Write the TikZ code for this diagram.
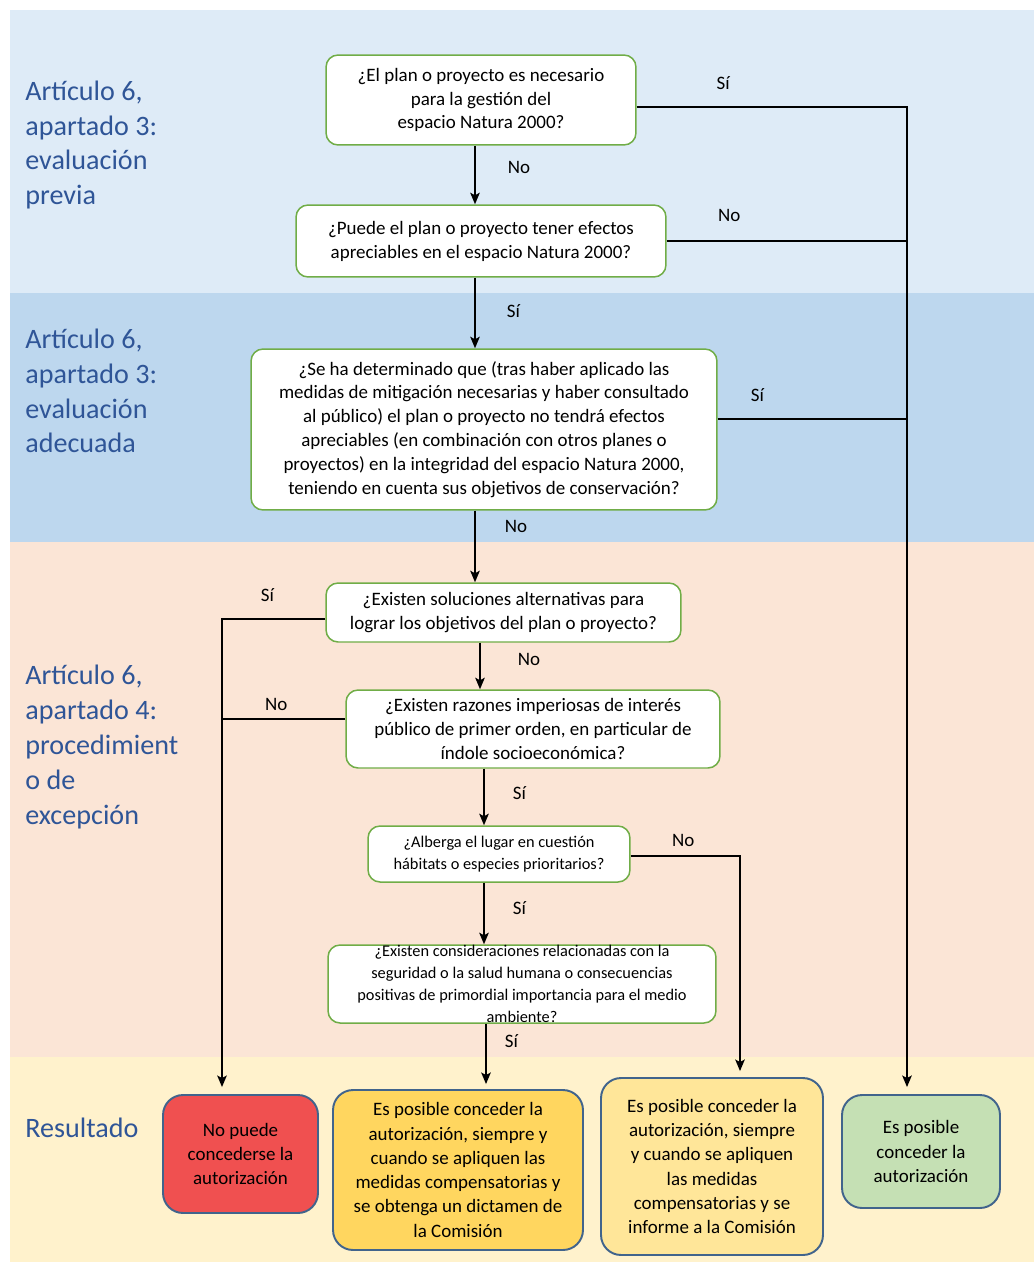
\documentclass[tikz,border=0pt]{standalone}
\usepackage{fontspec}
\setmainfont{Carlito}
\usetikzlibrary{calc, arrows.meta}
\definecolor{BandPrev}{RGB}{222, 235, 247}
\definecolor{BandAdeq}{RGB}{189, 215, 238}
\definecolor{BandExc}{RGB}{251, 229, 214}
\definecolor{BandRes}{RGB}{255, 242, 204}
\definecolor{QGreen}{RGB}{112, 173, 71}
\definecolor{RBorder}{RGB}{65, 100, 140}
\definecolor{SecBlue}{RGB}{47, 85, 151}
\definecolor{ResNo}{RGB}{240, 80, 80}
\definecolor{ResDict}{RGB}{255, 214, 95}
\definecolor{ResInf}{RGB}{255, 230, 153}
\definecolor{ResOk}{RGB}{197, 224, 180}

\begin{document}
\begin{tikzpicture}[x=0.02cm, y=-0.02cm,
                question/.style={draw=QGreen, line width=0.85pt, fill=white, rounded corners=0.24cm, inner sep=0pt, align=center, font=\fontsize{10.8}{13.6}\selectfont},
                smallq/.style={question, font=\fontsize{9.3}{12.4}\selectfont},
                result/.style={draw=RBorder, line width=1.1pt, rounded corners=0.4cm, inner sep=0pt, align=center, font=\fontsize{10.8}{13.8}\selectfont},
                section/.style={anchor=west, align=left, inner sep=0pt, text=SecBlue, font=\fontsize{16}{19.8}\selectfont},
                wire/.style={->, >={Stealth[length=2.3mm, width=1.9mm, inset=0.5mm]}, line width=1pt},
                lbl/.style={inner sep=0pt, font=\fontsize{10.8}{13}\selectfont}
            ]
                % Bands
                \useasboundingbox (0,0) rectangle (1034,1267);
                \fill[BandPrev] (10,10) rectangle (1034,293);
                \fill[BandAdeq] (10,293) rectangle (1034,542);
                \fill[BandExc] (10,542) rectangle (1034,1057);
                \fill[BandRes] (10,1057) rectangle (1034,1262);

                % Section titles
                \node[section] (sec_prev) at (25,145) {Artículo 6,\\apartado 3:\\evaluación\\previa};
                \node[section] (sec_adeq) at (25,391) {Artículo 6,\\apartado 3:\\evaluación\\adecuada};
                \node[section] (sec_exc) at (25,747) {Artículo 6,\\apartado 4:\\procedimient\\o de\\excepción};
                \node[section] (sec_res) at (25,1128) {Resultado};

                % Questions
                \node[question, minimum width=6.2cm, minimum height=1.8cm] (q_needed) at (481,100) {¿El plan o proyecto es necesario\\para la gestión del\\espacio Natura 2000?};
                \node[question, minimum width=7.4cm, minimum height=1.44cm] (q_effects) at (481,241) {¿Puede el plan o proyecto tener efectos\\apreciables en el espacio Natura 2000?};
                \node[question, minimum width=9.32cm, minimum height=3.22cm] (q_integrity) at (484,429.5) {¿Se ha determinado que (tras haber aplicado las\\medidas de mitigación necesarias y haber consultado\\al público) el plan o proyecto no tendrá efectos\\apreciables (en combinación con otros planes o\\proyectos) en la integridad del espacio Natura 2000,\\teniendo en cuenta sus objetivos de conservación?};
                \node[question, minimum width=7.1cm, minimum height=1.18cm] (q_altern) at (503.5,612.5) {¿Existen soluciones alternativas para\\lograr los objetivos del plan o proyecto?};
                \node[question, minimum width=7.48cm, minimum height=1.56cm] (q_reasons) at (533,729) {¿Existen razones imperiosas de interés\\público de primer orden, en particular de\\índole socioeconómica?};
                \node[smallq, minimum width=5.24cm, minimum height=1.12cm] (q_priority) at (499,854) {¿Alberga el lugar en cuestión\\hábitats o especies prioritarios?};
                \node[smallq, minimum width=7.76cm, minimum height=1.56cm] (q_health) at (522,984) {¿Existen consideraciones relacionadas con la\\seguridad o la salud humana o consecuencias\\positivas de primordial importancia para el medio\\ambiente?};

                % Results
                \node[result, fill=ResNo, minimum width=3.1cm, minimum height=2.36cm] (r_denied) at (240.5,1154) {No puede\\concederse la\\autorización};
                \node[result, fill=ResDict, minimum width=5.0cm, minimum height=3.2cm] (r_opinion) at (458,1170) {Es posible conceder la\\autorización, siempre y\\cuando se apliquen las\\medidas compensatorias y\\se obtenga un dictamen de\\la Comisión};
                \node[result, fill=ResInf, minimum width=4.44cm, minimum height=3.54cm] (r_inform) at (712,1166.5) {Es posible conceder la\\autorización, siempre\\y cuando se apliquen\\las medidas\\compensatorias y se\\informe a la Comisión};
                \node[result, fill=ResOk, minimum width=3.16cm, minimum height=2.26cm] (r_granted) at (921,1151.5) {Es posible\\conceder la\\autorización};

                % Columns of the vertical runs
                \coordinate (bus_left) at (222,0);
                \coordinate (bus_mid) at (740,0);
                \coordinate (bus_right) at (907,0);
                \coordinate (col_a) at (475,0);
                \coordinate (col_b) at (480,0);
                \coordinate (col_c) at (484,0);
                \coordinate (col_d) at (486,0);

                % Main column
                \draw[wire] (q_needed.south -| col_a) -- node[lbl, pos=0.37, right=0.64cm] {No} (q_effects.north -| col_a);
                \draw[wire] (q_effects.south -| col_a) -- node[lbl, pos=0.47, right=0.62cm] {Sí} (q_integrity.north -| col_a);
                \draw[wire] (q_integrity.south -| col_a) -- node[lbl, pos=0.22, right=0.58cm] {No} (q_altern.north -| col_a);
                \draw[wire] (q_altern.south -| col_b) -- node[lbl, pos=0.35, right=0.74cm] {No} (q_reasons.north -| col_b);
                \draw[wire] (q_reasons.south -| col_c) -- node[lbl, pos=0.43, right=0.56cm] {Sí} (q_priority.north -| col_c);
                \draw[wire] (q_priority.south -| col_c) -- node[lbl, pos=0.41, right=0.56cm] {Sí} (q_health.north -| col_c);
                \draw[wire, shorten >=1mm] (q_health.south -| col_d) -- node[lbl, pos=0.27, right=0.36cm] {Sí} (r_opinion.north -| col_d);

                % Right bus
                \draw[wire, shorten >=1.4mm] ($(q_needed.east)+(0,7)$) -| node[lbl, pos=0.16, above=0.32cm] {Sí} (r_granted.north -| bus_right);
                \draw[line width=1pt] (q_effects.east) -- node[lbl, pos=0.26, above=0.36cm] {No} (q_effects.east -| bus_right);
                \draw[line width=1pt] ($(q_integrity.east)+(0,-10.5)$) -- node[lbl, pos=0.21, above=0.32cm] {Sí} ($(q_integrity.east -| bus_right)+(0,-10.5)$);

                % Left bus
                \draw[wire, shorten >=1.4mm] ($(q_altern.west)+(0,6.5)$) -| node[lbl, pos=0.28, above=0.34cm] {Sí} (r_denied.north -| bus_left);
                \draw[line width=1pt] ($(q_reasons.west)+(0,-10)$) -- node[lbl, pos=0.56, above=0.16cm] {No} ($(q_reasons.west -| bus_left)+(0,-10)$);

                % Priority habitats
                \draw[wire, shorten >=1.2mm] ($(q_priority.east)+(0,2)$) -| node[lbl, pos=0.24, above=0.18cm] {No} (r_inform.north -| bus_mid);
            \end{tikzpicture}
\end{document}
